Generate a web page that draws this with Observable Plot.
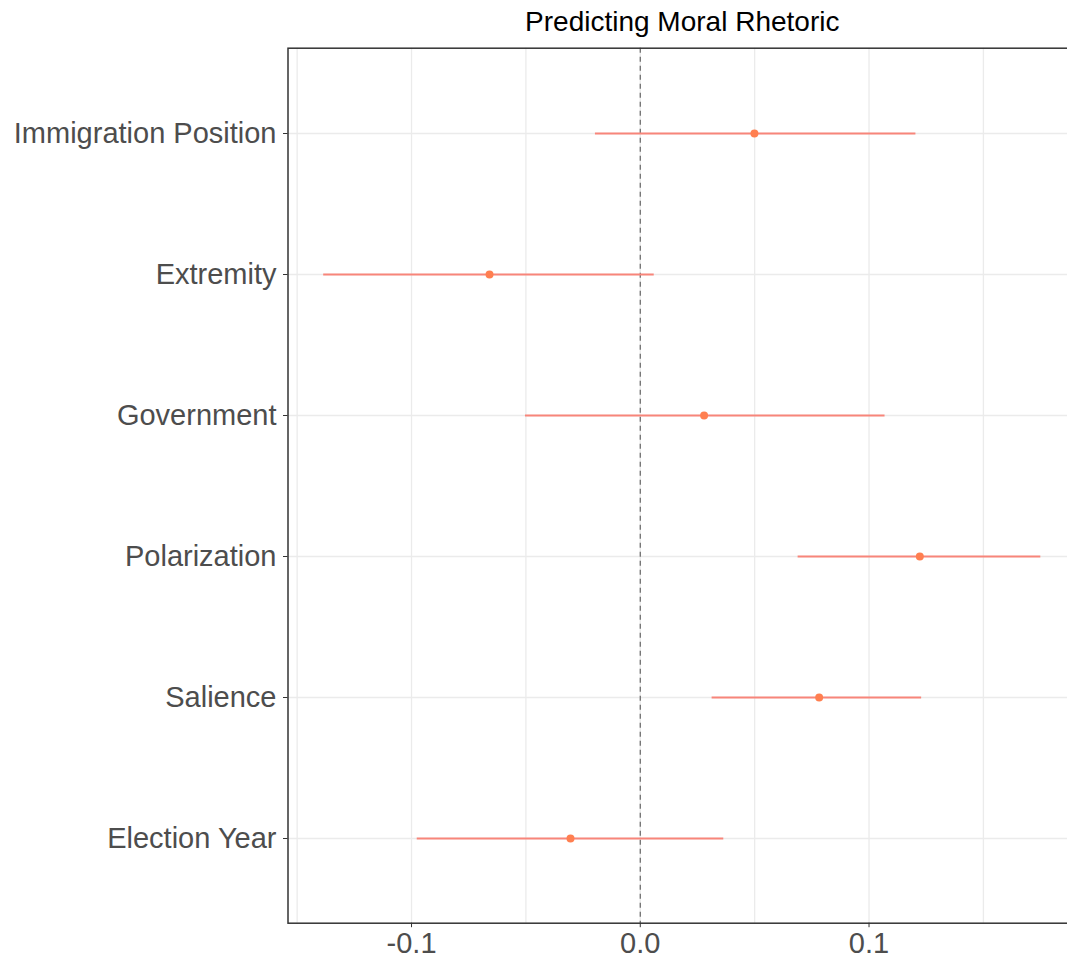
<!DOCTYPE html>
<html>
<head>
<meta charset="utf-8">
<script src="https://cdn.jsdelivr.net/npm/d3@7"></script>
<script src="https://cdn.jsdelivr.net/npm/@observablehq/plot@0.6"></script>
<style>
  html, body { margin: 0; padding: 0; background: #fff; }
  body { width: 1067px; height: 960px; overflow: hidden; }
  #chart { width: 1067px; height: 960px; overflow: hidden; }
  #chart svg { display: block; overflow: hidden !important; font-family: "Liberation Sans", Arial, sans-serif; }
</style>
</head>
<body>
<div id="chart"></div>
<script>
// Data
const categories = ["Immigration Position", "Extremity", "Government", "Polarization", "Salience", "Election Year"];
const estimates = [0.0499, -0.0659, 0.0279, 0.1222, 0.0782, -0.0305];
const lower = [-0.0196, -0.1384, -0.0502, 0.0690, 0.0314, -0.0975];
const upper = [0.1205, 0.0061, 0.1070, 0.1751, 0.1230, 0.0365];
const xTicks = [-0.1, 0.0, 0.1];
const xGrid = [-0.15, -0.1, -0.05, 0, 0.05, 0.1, 0.15];
const title = "Predicting Moral Rhetoric";

const rows = categories.map((c, i) => ({term: c, est: estimates[i], lo: lower[i], hi: upper[i]}));

const chart = Plot.plot({
  width: 1067,
  height: 960,
  marginLeft: 287.5,
  marginRight: -9,
  marginTop: 47.7,
  marginBottom: 37.3,
  style: {fontFamily: '"Liberation Sans", Arial, sans-serif', background: "#fff", overflow: "hidden"},
  x: {domain: [-0.154, 0.1907]},
  y: {type: "point", domain: categories, padding: 0.6},
  marks: [
    Plot.ruleX(xGrid, {stroke: "#EBEBEB", strokeWidth: 1.3}),
    Plot.ruleY(categories, {y: d => d, stroke: "#EBEBEB", strokeWidth: 1.3}),
    Plot.ruleX([0], {stroke: "#666", strokeWidth: 1.2, strokeDasharray: "5,4"}),
    Plot.ruleY(rows, {y: "term", x1: "lo", x2: "hi", stroke: "#F8857A", strokeWidth: 2}),
    Plot.dot(rows, {x: "est", y: "term", r: 4, fill: "#FF7F50", stroke: "none"}),
    Plot.frame({stroke: "#333", strokeWidth: 1.5}),
    Plot.axisY({tickSize: 4.5, tickPadding: 7, fontSize: 29, color: "#4D4D4D", stroke: "#333", label: null}),
    Plot.axisX({ticks: xTicks, tickSize: 4.5, tickPadding: 5, fontSize: 29, color: "#4D4D4D", stroke: "#333", label: null, tickFormat: d => d.toFixed(1)}),
    Plot.text([title], {frameAnchor: "top", lineAnchor: "middle", dy: -25.7, fontSize: 28, fill: "#000"})
  ]
});
document.getElementById("chart").appendChild(chart);
</script>
</body>
</html>
